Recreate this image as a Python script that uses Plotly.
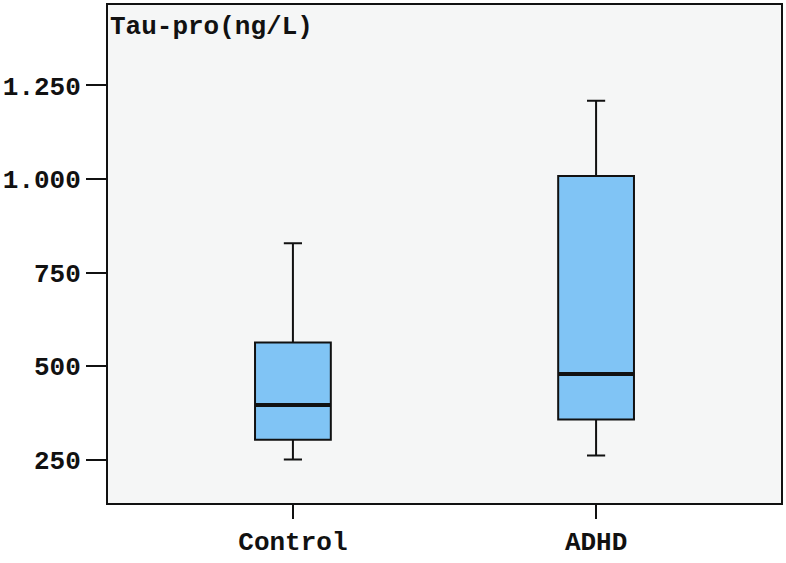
import plotly.graph_objects as go

groups = ['Control', 'ADHD']
lower = [250, 261]
q1 = [303, 357]
median = [396, 479]
q3 = [563, 1008]
upper = [828, 1209]

y_ticks = [250, 500, 750, 1000, 1250]
y_tick_labels = ['250', '500', '750', '1.000', '1.250']

FONT = 'Liberation Mono, Courier New, monospace'
BOX_W = 0.25
pos = list(range(len(groups)))

fig = go.Figure()
fig.add_trace(go.Box(
    x=pos, q1=q1, median=median, q3=q3,
    lowerfence=lower, upperfence=upper,
    width=BOX_W, whiskerwidth=0.24,
    fillcolor='#80C4F5',
    line=dict(color='#111111', width=2),
    boxpoints=False, showlegend=False, hoverinfo='skip'
))

# thicker median bars drawn on top
for p, m in zip(pos, median):
    fig.add_trace(go.Scatter(
        x=[p - BOX_W / 2, p + BOX_W / 2], y=[m, m], mode='lines',
        line=dict(color='#111111', width=4), showlegend=False, hoverinfo='skip'
    ))

fig.update_layout(
    width=786, height=563,
    margin=dict(l=103, r=3, t=3, b=60),
    paper_bgcolor='white',
    plot_bgcolor='#F5F6F6',
    font=dict(family=FONT, size=26, color='#111111'),
    annotations=[dict(
        text='<b>Tau-pro(ng/L)</b>', xref='paper', yref='paper',
        x=0.0, y=0.99, xanchor='left', yanchor='top', showarrow=False,
        font=dict(family=FONT, size=26, color='#111111')
    )]
)
fig.update_xaxes(
    range=[-0.61, 1.61], tickvals=pos,
    ticktext=['<b>%s</b>' % g for g in groups],
    showgrid=False, zeroline=False,
    showline=True, mirror=True, linecolor='#111111', linewidth=2,
    ticks='outside', ticklen=14, tickwidth=2, tickcolor='#111111'
)
fig.update_yaxes(
    range=[134, 1465], tickvals=y_ticks,
    ticktext=['<b>%s</b>' % t for t in y_tick_labels],
    showgrid=False, zeroline=False,
    showline=True, mirror=True, linecolor='#111111', linewidth=2,
    ticks='outside', ticklen=20, tickwidth=2, tickcolor='#111111'
)

fig.write_html("out.html", config={'displayModeBar': False},
               post_script="document.body.style.margin='0';document.body.style.overflow='hidden';")
